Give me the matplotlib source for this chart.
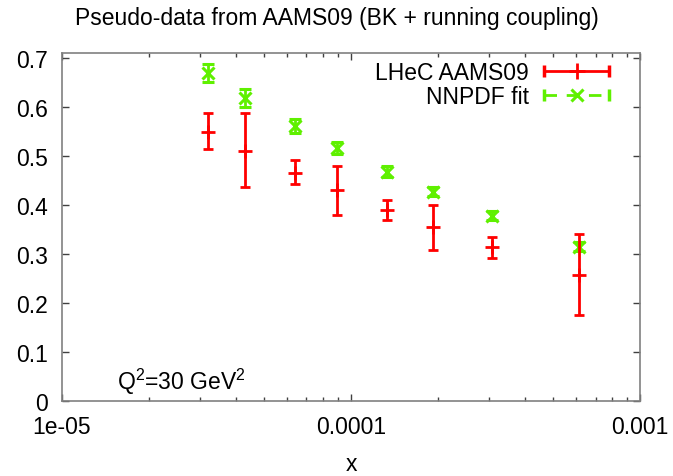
import numpy as np
import matplotlib
matplotlib.use("Agg")
import matplotlib.pyplot as plt
from matplotlib.lines import Line2D
from matplotlib.legend_handler import HandlerBase
from matplotlib.ticker import FixedLocator, FixedFormatter, LogLocator, NullFormatter

plt.rcParams['font.family'] = ['Liberation Sans', 'DejaVu Sans']
plt.rcParams['mathtext.fontset'] = 'custom'
plt.rcParams['mathtext.rm'] = 'Liberation Sans'
plt.rcParams['mathtext.it'] = 'Liberation Sans:italic'

# data
x_vals = [3.2e-5, 4.3e-5, 6.4e-5, 8.94e-5, 1.326e-4, 1.917e-4, 3.08e-4, 6.14e-4]
lhec_y = [0.550, 0.511, 0.467, 0.431, 0.390, 0.356, 0.314, 0.258]
lhec_lo = [0.515, 0.438, 0.443, 0.381, 0.371, 0.309, 0.293, 0.176]
lhec_hi = [0.588, 0.588, 0.492, 0.480, 0.411, 0.401, 0.335, 0.342]
nn_y = [0.670, 0.619, 0.562, 0.517, 0.469, 0.428, 0.379, 0.316]
nn_err = [0.019, 0.018, 0.014, 0.013, 0.011, 0.009, 0.009, 0.010]

xticks = [1e-5, 1e-4, 1e-3]
xtick_labels = ["1e-05", "0.0001", "0.001"]
yticks = [0, 0.1, 0.2, 0.3, 0.4, 0.5, 0.6, 0.7]
ytick_labels = ["0", "0.1", "0.2", "0.3", "0.4", "0.5", "0.6", "0.7"]
labels = ["LHeC AAMS09", "NNPDF fit"]

RED = "#ff0000"
GREEN = "#5ff000"
FS = 16.5

fig = plt.figure(figsize=(6.73, 4.77), dpi=100)
ax = fig.add_axes([62/673, 1-402.3/477, (640.3-62)/673, (402.3-54)/477])

ly = np.array(lhec_y)
yerr_l = [ly - np.array(lhec_lo), np.array(lhec_hi) - ly]
h_red = ax.errorbar(x_vals, lhec_y, yerr=yerr_l, fmt='+', color=RED, ms=10, mew=2,
                    elinewidth=2, capsize=3.5, capthick=2.5, zorder=3)
h_gr = ax.errorbar(x_vals, nn_y, yerr=nn_err, fmt='x', color=GREEN, ms=8, mew=2.2,
                   elinewidth=2, capsize=4.5, capthick=2.5, zorder=2)

ax.set_xscale('log')
ax.set_xlim(1e-5, 1e-3)
ax.set_ylim(0, 0.711)
ax.xaxis.set_major_locator(FixedLocator(xticks))
ax.xaxis.set_major_formatter(FixedFormatter(xtick_labels))
ax.xaxis.set_minor_locator(LogLocator(base=10, subs=np.arange(2, 10), numticks=20))
ax.xaxis.set_minor_formatter(NullFormatter())
ax.yaxis.set_major_locator(FixedLocator(yticks))
ax.yaxis.set_major_formatter(FixedFormatter(ytick_labels))

for s in ax.spines.values():
    s.set_color('#808080')
    s.set_linewidth(1.2)
ax.tick_params(which='both', direction='in', top=True, right=True, color='#404040',
               labelsize=FS)
ax.tick_params(which='major', length=5, width=1)
ax.tick_params(which='minor', length=3, width=1)
ax.tick_params(axis='x', which='major', pad=10)
ax.tick_params(axis='y', which='major', pad=10)

ax.set_xlabel("x", fontsize=FS, labelpad=10)
fig.text(0.5, 1-18/477, "Pseudo-data from AAMS09 (BK + running coupling)",
         ha='center', va='center', fontsize=FS)
ax.text(0.095, 0.035, "Q$^2$=30 GeV$^2$", transform=ax.transAxes, fontsize=FS,
        ha='left', va='baseline')


class GnuHandler(HandlerBase):
    def __init__(self, color, ls, marker, ms, mew):
        super().__init__()
        self.c, self.ls, self.m, self.ms, self.mew = color, ls, marker, ms, mew

    def create_artists(self, legend, orig_handle, xdescent, ydescent, width,
                       height, fontsize, trans):
        y = height / 2 - ydescent
        x0, x1 = -xdescent, width - xdescent
        line = Line2D([x0, x1], [y, y], color=self.c, lw=2, ls=self.ls)
        caps = Line2D([x0, x1], [y, y], lw=0, color=self.c, marker='|', ms=9, mew=2.5)
        mark = Line2D([(x0 + x1) / 2], [y], lw=0, color=self.c, marker=self.m,
                      ms=self.ms, mew=self.mew)
        arts = [line, caps, mark]
        for a in arts:
            a.set_transform(trans)
        return arts


leg = ax.legend([h_red, h_gr], labels,
                handler_map={h_red: GnuHandler(RED, '-', '+', 12, 2),
                             h_gr: GnuHandler(GREEN, (0, (4.5, 3.5)), 'x', 9, 2.2)},
                loc='upper right', bbox_to_anchor=(0.972, 1.02), frameon=False,
                markerfirst=False, handlelength=2.85, fontsize=FS,
                handletextpad=0.65, labelspacing=0.05, borderaxespad=0.25)

fig.savefig("out.png", dpi=100)
